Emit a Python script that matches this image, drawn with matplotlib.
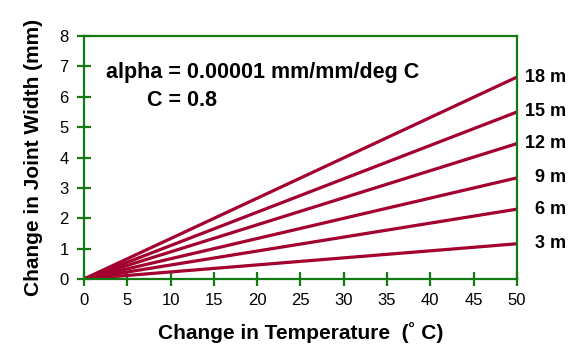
import matplotlib
matplotlib.use("Agg")
import matplotlib.pyplot as plt

plt.rcParams['font.family'] = ['Liberation Sans', 'DejaVu Sans']

lengths = ["3 m", "6 m", "9 m", "12 m", "15 m", "18 m"]
temp = [0, 50]
end_width = [1.16, 2.30, 3.33, 4.46, 5.50, 6.65]
xticks = list(range(0, 55, 5))
yticks = list(range(0, 9))

green = "#137A13"
red = "#A3002F"

fig = plt.figure(figsize=(5.75, 3.47), dpi=100)
ax = fig.add_axes([0.146, 0.196, 0.753, 0.700])

for lab, w in zip(lengths, end_width):
    ax.plot(temp, [0, w], color=red, lw=2.3, solid_capstyle='butt')
    ax.annotate(lab, xy=(50, w), xytext=(566, 0), textcoords=('figure pixels', 'offset points'),
                xycoords='data', ha='right', va='center', fontsize=13, fontweight='bold')

ax.set_xlim(0, 50)
ax.set_ylim(0, 8)
ax.set_xticks(xticks)
ax.set_yticks(yticks)
for s in ax.spines.values():
    s.set_color(green)
    s.set_linewidth(1.6)
ax.tick_params(direction='inout', length=10, width=1.6, color=green, labelsize=12)
ax.tick_params(axis='x', pad=5)
ax.tick_params(axis='y', pad=6)

ax.text(0.052, 0.85, "alpha = 0.00001 mm/mm/deg C", transform=ax.transAxes,
        fontsize=15.5, fontweight='bold', va='center', ha='left')
ax.text(0.145, 0.733, "C = 0.8", transform=ax.transAxes,
        fontsize=15.5, fontweight='bold', va='center', ha='left')

ax.set_xlabel("Change in Temperature  (˚ C)", fontsize=15, fontweight='bold', labelpad=10)
ax.set_ylabel("Change in Joint Width (mm)", fontsize=15, fontweight='bold', labelpad=12)

fig.savefig("out.png", dpi=100)
